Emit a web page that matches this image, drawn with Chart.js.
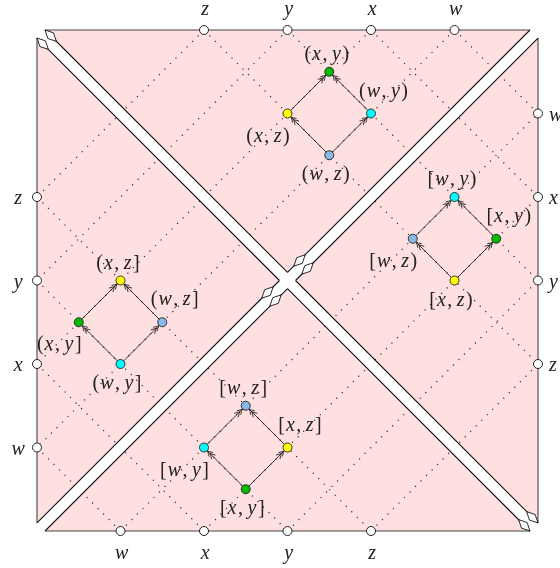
<!DOCTYPE html>
<html>
<head>
<meta charset="utf-8">
<script src="https://cdn.jsdelivr.net/npm/chart.js@4.4.1/dist/chart.umd.min.js"></script>
<style>
    html, body { margin: 0; padding: 0; background: #fff; }
    #wrap { width: 560px; height: 568px; }
</style>
</head>
<body>
<div id="wrap"><canvas id="lattice" width="560" height="568"></canvas></div>
<script>
// side ticks, position along each side in grid units
const topTicks = ['z', 'y', 'x', 'w'];
const topTickPos = [2, 3, 4, 5];
const bottomTicks = ['w', 'x', 'y', 'z'];
const bottomTickPos = [1, 2, 3, 4];
const leftTicks = ['z', 'y', 'x', 'w'];
const leftTickPos = [2, 3, 4, 5];
const rightTicks = ['w', 'x', 'y', 'z'];
const rightTickPos = [1, 2, 3, 4];

// the four small lattices (u across, v down)
const nodeLabels = [
    '(x,y)', '(w,y)', '(x,z)', '(w,z)',
    '[w,y)', '[x,y)', '[w,z)', '[x,z)',
    '(x,z]', '(w,z]', '(x,y]', '(w,y]',
    '[w,z]', '[x,z]', '[w,y]', '[x,y]'
];
const nodeU = [3.5, 4, 3, 3.5, 5, 5.5, 4.5, 5, 1, 1.5, 0.5, 1, 2.5, 3, 2, 2.5];
const nodeV = [0.5, 1, 1, 1.5, 2, 2.5, 2.5, 3, 3, 3.5, 3.5, 4, 4.5, 5, 5, 5.5];
const arrows = [
    [3, 2], [3, 1], [2, 0], [1, 0],
    [7, 6], [7, 5], [6, 4], [5, 4],
    [11, 10], [11, 9], [10, 8], [9, 8],
    [15, 14], [15, 13], [14, 12], [13, 12]
];

const GRID = 6;
const BAND = 0.096;

const nodeColors = { xy: '#00bb00', wy: '#00ffff', xz: '#ffff00', wz: '#8ab8e8' };
const PINK = '#ffe0e0';
const FONT = '"Liberation Serif"';

const gap = { x: null, y: null };

function buildGrid() {
    const pts = [];
    topTickPos.forEach(p => {
        pts.push({ x: p, y: 0 }, { x: 0, y: p }, gap);
        pts.push({ x: p, y: 0 }, { x: GRID, y: GRID - p }, gap);
    });
    leftTickPos.forEach(p => {
        pts.push({ x: 0, y: p }, { x: GRID - p, y: GRID }, gap);
    });
    bottomTickPos.forEach(q => {
        pts.push({ x: q, y: GRID }, { x: GRID, y: q }, gap);
    });
    return pts;
}

function buildBorder() {
    const d = BAND;
    return [
        { x: d, y: 0 }, { x: GRID - d, y: 0 }, gap,
        { x: GRID, y: d }, { x: GRID, y: GRID - d }, gap,
        { x: GRID - d, y: GRID }, { x: d, y: GRID }, gap,
        { x: 0, y: GRID - d }, { x: 0, y: d }
    ];
}

function buildBandEdges() {
    const d = BAND, c = GRID / 2;
    return [
        { x: d, y: 0 }, { x: c, y: c - d }, gap,
        { x: c + d, y: c }, { x: GRID, y: GRID - d }, gap,
        { x: 0, y: d }, { x: c - d, y: c }, gap,
        { x: c, y: c + d }, { x: GRID - d, y: GRID }, gap,
        { x: 0, y: GRID - d }, { x: c - d, y: c }, gap,
        { x: c, y: c - d }, { x: GRID - d, y: 0 }, gap,
        { x: d, y: GRID }, { x: c, y: c + d }, gap,
        { x: c + d, y: c }, { x: GRID, y: d }
    ];
}

function buildArrowLines() {
    const pts = [];
    arrows.forEach(([a, b]) => {
        pts.push({ x: nodeU[a], y: nodeV[a] }, { x: nodeU[b], y: nodeV[b] }, gap);
    });
    return pts;
}

const tickPoints = [
    ...topTickPos.map(p => ({ x: p, y: 0 })),
    ...bottomTickPos.map(p => ({ x: p, y: GRID })),
    ...leftTickPos.map(p => ({ x: 0, y: p })),
    ...rightTickPos.map(p => ({ x: GRID, y: p }))
];

const nodePoints = nodeLabels.map((_, i) => ({ x: nodeU[i], y: nodeV[i] }));
const nodeFill = nodeLabels.map(l => nodeColors[l.replace(/[^a-z]/g, '')]);

function toPx(chart, u, v) {
    return [chart.scales.x.getPixelForValue(u), chart.scales.y.getPixelForValue(v)];
}

function polygon(ctx, pts) {
    ctx.beginPath();
    pts.forEach(([x, y], i) => (i ? ctx.lineTo(x, y) : ctx.moveTo(x, y)));
    ctx.closePath();
}

function drawKite(ctx, tip, dir) {
    const len = 16, half = 4;
    const n = [-dir[1], dir[0]];
    const mid = [tip[0] - dir[0] * len * 0.5, tip[1] - dir[1] * len * 0.5];
    polygon(ctx, [
        tip,
        [mid[0] + n[0] * half, mid[1] + n[1] * half],
        [tip[0] - dir[0] * len, tip[1] - dir[1] * len],
        [mid[0] - n[0] * half, mid[1] - n[1] * half]
    ]);
    ctx.fillStyle = '#fff';
    ctx.fill();
    ctx.strokeStyle = '#111';
    ctx.lineWidth = 0.9;
    ctx.stroke();
}

function drawMath(ctx, text, cx, cy, align) {
    const italic = `italic 20px ${FONT}`;
    const upright = `20px ${FONT}`;
    const parts = [];
    for (const ch of text) {
        if (/[a-z]/.test(ch)) {
            ctx.font = italic;
            parts.push({ ch, font: italic, w: ctx.measureText(ch).width + 1.5 });
        } else {
            ctx.font = upright;
            const extra = ch === ',' ? 4.5 : 1;
            parts.push({ ch, font: upright, w: ctx.measureText(ch).width + extra });
        }
    }
    const total = parts.reduce((s, p) => s + p.w, 0);
    let x = align === 'left' ? cx : cx - total / 2;
    ctx.fillStyle = '#222';
    ctx.textBaseline = 'alphabetic';
    ctx.textAlign = 'left';
    parts.forEach(p => {
        ctx.font = p.font;
        ctx.fillText(p.ch, x, cy + 5);
        x += p.w;
    });
}

const latticeDecor = {
    id: 'latticeDecor',
    beforeDatasetsDraw(chart) {
        const ctx = chart.ctx;
        ctx.save();
        polygon(ctx, [toPx(chart, 0, 0), toPx(chart, GRID, 0), toPx(chart, GRID, GRID), toPx(chart, 0, GRID)]);
        ctx.fillStyle = PINK;
        ctx.fill();
        ctx.restore();
    },
    afterDatasetDraw(chart, args) {
        const ctx = chart.ctx;
        const name = chart.data.datasets[args.index].label;
        const d = BAND, c = GRID / 2;
        ctx.save();
        if (name === 'grid') {
            ctx.fillStyle = '#fff';
            polygon(ctx, [[0, 0], [d, 0], [GRID, GRID - d], [GRID, GRID], [GRID - d, GRID], [0, d]].map(p => toPx(chart, p[0], p[1])));
            ctx.fill();
            polygon(ctx, [[0, GRID], [0, GRID - d], [GRID - d, 0], [GRID, 0], [GRID, d], [d, GRID]].map(p => toPx(chart, p[0], p[1])));
            ctx.fill();
        }
        if (name === 'bandEdges') {
            const r = Math.SQRT1_2;
            const s = 0.076;
            drawKite(ctx, toPx(chart, d, 0), [-r, -r]);
            drawKite(ctx, toPx(chart, 0, d), [-r, -r]);
            drawKite(ctx, toPx(chart, GRID, GRID - d), [r, r]);
            drawKite(ctx, toPx(chart, GRID - d, GRID), [r, r]);
            drawKite(ctx, toPx(chart, c + s, c - d - s), [-r, r]);
            drawKite(ctx, toPx(chart, c + d + s, c - s), [-r, r]);
            drawKite(ctx, toPx(chart, c - d - s, c + s), [r, -r]);
            drawKite(ctx, toPx(chart, c - s, c + d + s), [r, -r]);
        }
        if (name === 'arrows') {
            ctx.strokeStyle = '#222';
            ctx.lineWidth = 0.9;
            arrows.forEach(([a, b]) => {
                const A = toPx(chart, nodeU[a], nodeV[a]);
                const B = toPx(chart, nodeU[b], nodeV[b]);
                const len = Math.hypot(B[0] - A[0], B[1] - A[1]);
                const t = [(B[0] - A[0]) / len, (B[1] - A[1]) / len];
                const n = [-t[1], t[0]];
                [5, 8.5].forEach(off => {
                    const tip = [B[0] - t[0] * off, B[1] - t[1] * off];
                    ctx.beginPath();
                    ctx.moveTo(tip[0] - t[0] * 5 + n[0] * 2.8, tip[1] - t[1] * 5 + n[1] * 2.8);
                    ctx.quadraticCurveTo(tip[0] - t[0] * 1.5 + n[0] * 0.6, tip[1] - t[1] * 1.5 + n[1] * 0.6, tip[0], tip[1]);
                    ctx.quadraticCurveTo(tip[0] - t[0] * 1.5 - n[0] * 0.6, tip[1] - t[1] * 1.5 - n[1] * 0.6, tip[0] - t[0] * 5 - n[0] * 2.8, tip[1] - t[1] * 5 - n[1] * 2.8);
                    ctx.stroke();
                });
            });
        }
        ctx.restore();
    },
    afterDatasetsDraw(chart) {
        const ctx = chart.ctx;
        ctx.save();
        topTicks.forEach((t, i) => {
            const [x, y] = toPx(chart, topTickPos[i], 0);
            drawMath(ctx, t, x + 2, y - 20);
        });
        bottomTicks.forEach((t, i) => {
            const [x, y] = toPx(chart, bottomTickPos[i], GRID);
            drawMath(ctx, t, x + 2, y + 23);
        });
        leftTicks.forEach((t, i) => {
            const [x, y] = toPx(chart, 0, leftTickPos[i]);
            drawMath(ctx, t, x - 18, y + 2);
        });
        rightTicks.forEach((t, i) => {
            const [x, y] = toPx(chart, GRID, rightTickPos[i]);
            drawMath(ctx, t, x + 11, y + 2, 'left');
        });
        nodeLabels.forEach((label, i) => {
            const g = Math.floor(i / 4) * 4;
            let cu = 0, cv = 0;
            for (let k = g; k < g + 4; k++) { cu += nodeU[k] / 4; cv += nodeV[k] / 4; }
            const du = nodeU[i] - cu, dv = nodeV[i] - cv;
            let off;
            if (Math.abs(dv) > Math.abs(du)) off = dv < 0 ? [-2, -17] : [-3, 20];
            else off = du > 0 ? [13, -22] : [-19, 23];
            const [x, y] = toPx(chart, nodeU[i], nodeV[i]);
            drawMath(ctx, label, x + off[0], y + off[1]);
        });
        ctx.restore();
    }
};

const lineSet = (label, data, extra) => Object.assign({
    label,
    data,
    showLine: true,
    pointRadius: 0,
    borderWidth: 1.1,
    borderColor: '#111',
    spanGaps: false,
    clip: false
}, extra);

function drawChart() {
    new Chart(document.getElementById('lattice'), {
        type: 'scatter',
        data: {
            datasets: [
                lineSet('grid', buildGrid(), { borderColor: '#2a2a2a', borderWidth: 1.2, borderDash: [1.2, 6.6], order: 50 }),
                lineSet('border', buildBorder(), { borderColor: '#444', order: 40 }),
                lineSet('bandEdges', buildBandEdges(), { borderColor: '#111', order: 30 }),
                lineSet('arrows', buildArrowLines(), { borderColor: '#222', borderWidth: 0.9, order: 20 }),
                {
                    label: 'ticks',
                    data: tickPoints,
                    pointRadius: 4.5,
                    pointBackgroundColor: '#fff',
                    pointBorderColor: '#222',
                    pointBorderWidth: 1,
                    clip: false,
                    order: 10
                },
                {
                    label: 'nodes',
                    data: nodePoints,
                    pointRadius: 4.5,
                    pointBackgroundColor: nodeFill,
                    pointBorderColor: '#222',
                    pointBorderWidth: 0.9,
                    clip: false,
                    order: 10
                }
            ]
        },
        options: {
            responsive: false,
            animation: false,
            devicePixelRatio: 1,
            events: [],
            layout: { padding: { left: 37, right: 22, top: 30, bottom: 37 } },
            scales: {
                x: { type: 'linear', min: 0, max: GRID, display: false },
                y: { type: 'linear', min: 0, max: GRID, reverse: true, display: false }
            },
            plugins: {
                legend: { display: false },
                tooltip: { enabled: false }
            }
        },
        plugins: [latticeDecor]
    });
}

Promise.all([
    document.fonts.load(`italic 20px ${FONT}`),
    document.fonts.load(`20px ${FONT}`)
]).catch(() => null).then(drawChart);
</script>
</body>
</html>
